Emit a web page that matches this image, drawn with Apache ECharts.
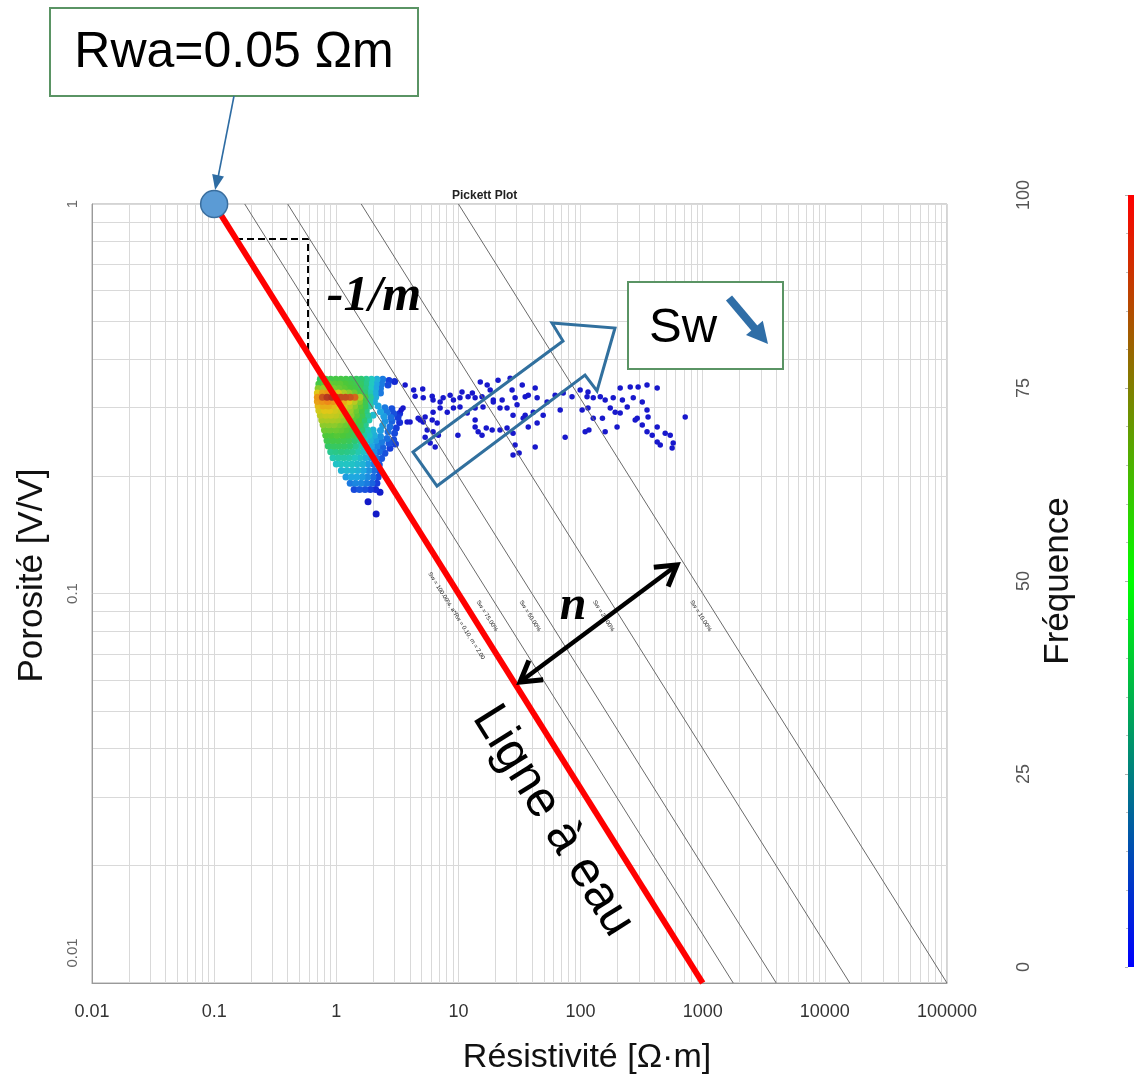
<!DOCTYPE html>
<html><head><meta charset="utf-8">
<script src="https://cdn.jsdelivr.net/npm/echarts@6/dist/echarts.min.js"></script>
<style>html,body{margin:0;padding:0;background:#fff}#c{width:1134px;height:1083px}</style>
</head><body><div id="c"></div><script>
// ---------- DATA ----------
const xTickLabels = ['0.01','0.1','1','10','100','1000','10000','100000'];
const yTickLabels = ['0.01','0.1','1'];
const freqTicks = [0, 25, 50, 75, 100];

// Archie lines (Rw = 0.1, m = 2, n = 2): endpoints at porosity 1 and 0.01
const lineNames = ['Sw = 100.00%, a*Rw = 0.10, m = 2.00', 'Sw = 75.00%', 'Sw = 50.00%', 'Sw = 25.00%', 'Sw = 10.00%'];
const lineStartR = [0.1, 0.178, 0.4, 1.6, 10];
const lineEndR = [1000, 1778, 4000, 16000, 100000];
const lineTopPhi = 1;
const lineBottomPhi = 0.01;

const rwaPoint = [0.1, 1];
const slopeCorner = [[0.151, 0.813], [0.587, 0.813], [0.587, 0.413]];

// dense cluster: [R, porosity, frequency]
const clusterPoints = [
[0.74,0.355,52],[0.82,0.355,55],[0.9,0.355,57],[0.99,0.355,58],[1.09,0.355,58],[1.2,0.355,57],[1.32,0.355,55],[1.46,0.355,53],[1.6,0.355,50],[1.76,0.355,46],[1.94,0.355,40],[2.15,0.355,32],[2.4,0.355,22],[2.7,0.352,12],[3.0,0.35,8],
[0.72,0.345,58],[0.8,0.345,62],[0.88,0.345,63],[0.97,0.345,62],[1.07,0.345,62],[1.18,0.345,60],[1.3,0.345,58],[1.43,0.345,56],[1.58,0.345,52],[1.74,0.345,47],[1.92,0.345,40],[2.12,0.345,30],[2.35,0.345,22],[2.65,0.343,14],
[0.71,0.336,68],[0.78,0.336,70],[0.86,0.336,68],[0.95,0.336,66],[1.05,0.336,64],[1.16,0.336,62],[1.28,0.336,60],[1.41,0.336,58],[1.56,0.336,54],[1.72,0.336,48],[1.9,0.336,40],[2.1,0.336,30],[2.3,0.336,22],
[0.7,0.327,80],[0.77,0.327,86],[0.85,0.327,88],[0.94,0.327,84],[1.04,0.327,78],[1.15,0.327,72],[1.27,0.327,68],[1.4,0.327,64],[1.55,0.327,58],[1.71,0.327,50],[1.88,0.327,42],[2.08,0.327,32],[2.3,0.327,22],
[0.7,0.319,88],[0.77,0.319,96],[0.84,0.319,99],[0.92,0.319,100],[1.0,0.319,98],[1.09,0.319,97],[1.19,0.319,97],[1.3,0.319,96],[1.42,0.319,94],[1.56,0.319,72],[1.72,0.319,58],[1.9,0.319,45],[2.1,0.319,32],
[0.7,0.311,86],[0.77,0.311,88],[0.85,0.311,90],[0.94,0.311,88],[1.04,0.311,86],[1.15,0.311,84],[1.27,0.311,80],[1.4,0.311,74],[1.55,0.311,66],[1.71,0.311,56],[1.88,0.311,44],[2.05,0.311,32],
[0.71,0.303,82],[0.78,0.303,84],[0.86,0.303,84],[0.95,0.303,82],[1.05,0.303,80],[1.16,0.303,78],[1.28,0.303,74],[1.41,0.303,68],[1.56,0.303,62],[1.72,0.303,54],[1.9,0.303,44],[2.2,0.303,30],[2.5,0.3,22],[2.85,0.298,15],
[0.72,0.295,78],[0.8,0.295,80],[0.88,0.295,80],[0.97,0.295,78],[1.07,0.295,76],[1.18,0.295,74],[1.3,0.295,70],[1.44,0.295,64],[1.6,0.295,58],[1.76,0.295,48],[2.3,0.293,30],[2.6,0.292,22],[2.95,0.29,15],[3.3,0.29,10],
[0.74,0.287,75],[0.82,0.287,76],[0.9,0.287,76],[0.99,0.287,75],[1.09,0.287,73],[1.2,0.287,71],[1.32,0.287,68],[1.46,0.287,62],[1.62,0.287,56],[1.8,0.287,46],[2.0,0.287,36],[2.45,0.285,28],[2.8,0.283,20],[3.2,0.283,12],
[0.76,0.279,72],[0.84,0.279,72],[0.93,0.279,72],[1.02,0.279,71],[1.12,0.279,69],[1.24,0.279,66],[1.37,0.279,62],[1.52,0.279,58],[1.68,0.279,50],[1.85,0.279,42],[2.5,0.277,26],[2.85,0.277,18],[3.3,0.275,10],
[0.78,0.271,68],[0.87,0.271,68],[0.96,0.271,68],[1.06,0.271,66],[1.17,0.271,64],[1.29,0.271,62],[1.42,0.271,58],[1.57,0.271,54],[1.73,0.271,46],[2.4,0.27,28],[2.75,0.268,20],[3.1,0.266,12],
[0.8,0.263,64],[0.89,0.263,64],[0.99,0.263,64],[1.09,0.263,63],[1.2,0.263,61],[1.33,0.263,58],[1.47,0.263,54],[1.62,0.263,50],[1.8,0.263,42],[2.0,0.263,34],[2.3,0.262,28],[2.65,0.26,20],[3.0,0.258,14],
[0.82,0.255,60],[0.91,0.255,60],[1.01,0.255,61],[1.12,0.255,60],[1.24,0.255,58],[1.37,0.255,55],[1.52,0.255,50],[1.68,0.255,44],[1.86,0.255,38],[2.05,0.255,32],[2.3,0.253,26],[2.6,0.25,20],[2.95,0.248,14],
[0.84,0.247,56],[0.93,0.247,57],[1.03,0.247,57],[1.14,0.247,56],[1.26,0.247,54],[1.4,0.247,50],[1.55,0.247,46],[1.72,0.247,40],[1.9,0.247,34],[2.1,0.247,28],[2.35,0.245,22],[2.7,0.243,16],[3.05,0.242,12],
[0.86,0.239,52],[0.95,0.239,53],[1.05,0.239,53],[1.16,0.239,52],[1.29,0.239,50],[1.43,0.239,46],[1.58,0.239,42],[1.75,0.239,36],[1.94,0.239,30],[2.15,0.239,24],[2.4,0.237,18],[2.75,0.236,12],
[0.9,0.231,46],[0.99,0.231,47],[1.1,0.231,48],[1.22,0.231,47],[1.35,0.231,45],[1.5,0.231,42],[1.66,0.231,38],[1.84,0.231,32],[2.04,0.231,26],[2.25,0.231,20],[2.5,0.229,15],
[0.94,0.223,42],[1.04,0.223,43],[1.15,0.223,43],[1.27,0.223,42],[1.41,0.223,40],[1.56,0.223,37],[1.73,0.223,33],[1.92,0.223,28],[2.12,0.223,22],[2.35,0.222,16],
[1.0,0.215,38],[1.09,0.215,39],[1.21,0.215,39],[1.34,0.215,38],[1.48,0.215,36],[1.64,0.215,33],[1.82,0.215,28],[2.02,0.215,22],[2.25,0.214,16],
[1.1,0.207,34],[1.22,0.207,35],[1.35,0.207,35],[1.5,0.207,33],[1.66,0.207,30],[1.84,0.207,26],[2.04,0.207,20],[2.28,0.206,14],
[1.2,0.199,28],[1.33,0.199,30],[1.47,0.199,30],[1.63,0.199,28],[1.8,0.199,25],[2.0,0.199,20],[2.2,0.199,14],
[1.3,0.192,22],[1.44,0.192,24],[1.6,0.192,24],[1.77,0.192,22],[1.96,0.192,18],[2.15,0.192,12],
[1.4,0.185,14],[1.55,0.185,16],[1.72,0.185,15],[1.9,0.185,12],[2.1,0.185,8],
[2.28,0.182,4],[1.82,0.172,3],[2.12,0.16,3]
];

// sparse low-frequency points: [R, porosity]
const sparsePoints = [
[3.66,0.343],[4.3,0.333],[5.1,0.335],[4.42,0.321],[5.15,0.318],[6.1,0.321],[6.2,0.314],[7.5,0.318],[7.08,0.31],[8.55,0.323],
[9.1,0.314],[10.7,0.329],[10.3,0.318],[12.0,0.32],[13.0,0.327],[13.7,0.318],[15.1,0.349],[15.6,0.32],[17.2,0.343],[18.2,0.333],
[21.1,0.353],[19.3,0.314],[22.8,0.314],[26.5,0.357],[27.5,0.333],[29.1,0.318],[33.3,0.343],[35.2,0.32],[37.3,0.323],[42.5,0.337],
[44.1,0.318],[53.2,0.31],[61.9,0.323],[72.1,0.327],[85.1,0.32],[99.2,0.333],[113,0.32],[115,0.329],[127,0.318],[145,0.32],
[159,0.314],[185,0.318],[211,0.337],[220,0.314],[255,0.339],[270,0.318],[296,0.339],[350,0.343],[424,0.337],[320,0.31],
[3.52,0.2995],[4.68,0.282],[5.34,0.284],[6.2,0.292],[7.08,0.2995],[8.1,0.292],[9.1,0.2995],[10.3,0.301],[11.8,0.2905],[13.7,0.2995],
[15.9,0.301],[19.3,0.31],[21.9,0.2995],[25.0,0.2995],[30.2,0.305],[28.0,0.287],[35.2,0.287],[41.0,0.292],[49.4,0.287],[68.1,0.296],
[103,0.296],[115,0.2995],[127,0.282],[151,0.282],[175,0.2995],[192,0.292],[211,0.2905],[241,0.301],[291,0.282],[350,0.296],
[357,0.284],[719,0.284],
[3.8,0.2755],[5.15,0.2755],[6.1,0.279],[6.7,0.274],[5.55,0.263],[6.2,0.26],[6.85,0.255],[5.34,0.252],[5.87,0.2434],[6.45,0.2377],
[9.9,0.255],[13.7,0.279],[13.7,0.2676],[14.5,0.26],[15.6,0.255],[16.9,0.266],[18.9,0.263],[21.9,0.263],[25.0,0.266],[28.0,0.258],
[29.1,0.2405],[31.4,0.2295],[28.0,0.2268],[33.9,0.282],[37.3,0.2676],[42.5,0.2377],[44.1,0.274],[74.8,0.252],[109,0.26],[117,0.263],
[159,0.26],[199,0.2676],[280,0.279],[320,0.2707],[350,0.26],[386,0.255],[424,0.2676],[424,0.2449],[449,0.2405],[493,0.258],
[542,0.255],[573,0.2434],[562,0.2363],[4.02,0.2755],[4.86,0.279],[3.4,0.296]
];

// ---------- CHART ----------
const FONT = '"Liberation Sans", Arial, sans-serif';
const SERIF = '"Liberation Serif", "Times New Roman", serif';
const chart = echarts.init(document.getElementById('c'));

function fmt(v) { return String(+(+v).toPrecision(6)); }

const vLines = [], hLines = [];
for (let e = -2; e < 5; e++) for (let k = 1; k < 10; k++) vLines.push({ xAxis: +(k * Math.pow(10, e)).toPrecision(4) });
vLines.push({ xAxis: 100000 });
for (let e = -2; e < 0; e++) for (let k = 1; k < 10; k++) hLines.push({ yAxis: +(k * Math.pow(10, e)).toPrecision(4) });
hLines.push({ yAxis: 1 });

const sortedCluster = clusterPoints.slice().sort((a, b) => a[2] - b[2]);

const series = [
  {
    type: 'line', data: [[1, 0.5]], showSymbol: false, symbol: 'none', lineStyle: { opacity: 0 }, silent: true, z: 0,
    markLine: {
      z: 0, silent: true, symbol: ['none', 'none'], label: { show: false }, animation: false,
      lineStyle: { color: '#d9d9d9', width: 1, type: 'solid' },
      emphasis: { disabled: true },
      data: vLines.concat(hLines)
    }
  },
  {
    type: 'scatter', name: 'cluster', data: sortedCluster, symbolSize: 7, z: 3,
    itemStyle: { opacity: 1 }
  },
  {
    type: 'scatter', name: 'sparse', data: sparsePoints, symbolSize: 5.5, z: 3,
    itemStyle: { color: '#1818cc', opacity: 1 }
  }
];
for (let i = lineStartR.length - 1; i >= 0; i--) {
  series.push({
    type: 'line', name: lineNames[i], z: i === 0 ? 6 : 4, symbol: 'none', silent: true,
    data: [[lineStartR[i], lineTopPhi], [lineEndR[i], lineBottomPhi]],
    lineStyle: i === 0 ? { color: '#ff0000', width: 6 } : { color: '#6a6a6a', width: 1 }
  });
}
series.push({
  type: 'line', name: 'slope', data: slopeCorner, symbol: 'none', z: 5, silent: true,
  lineStyle: { color: '#000', width: 2, type: [7, 4] }
});
series.push({
  type: 'scatter', name: 'Rwa', data: [rwaPoint], symbolSize: 27, z: 8, silent: true,
  itemStyle: { color: '#5b9bd5', borderColor: '#3a6e9e', borderWidth: 1.5, opacity: 1 }
});
series.push({
  type: 'bar', xAxisIndex: 1, yAxisIndex: 1, data: [freqTicks[freqTicks.length - 1]], barWidth: '100%', silent: true,
  itemStyle: {
    color: { type: 'linear', x: 0, y: 1, x2: 0, y2: 0, colorStops: [
      { offset: 0, color: '#0000ff' }, { offset: 0.5, color: '#00ff00' }, { offset: 1, color: '#ff0000' }] }
  }
});

chart.setOption({
  animation: false,
  backgroundColor: '#fff',
  textStyle: { fontFamily: FONT },
  title: { text: 'Pickett Plot', left: 447, top: 185, textStyle: { fontSize: 12, fontWeight: 'bold', color: '#222', fontFamily: FONT } },
  grid: [
    { left: 92, top: 204, width: 855, height: 779, show: true, borderColor: '#a8a8a8', borderWidth: 1 },
    { left: 1128, top: 195, width: 8, height: 772, show: false }
  ],
  xAxis: [
    {
      type: 'log', logBase: 10, min: 0.01, max: 100000, gridIndex: 0,
      axisLine: { show: true, lineStyle: { color: '#9a9a9a' } },
      axisTick: { show: false }, splitLine: { show: false },
      axisLabel: { fontSize: 18, color: '#333', margin: 20, fontFamily: FONT, formatter: v => { const s = fmt(v); return xTickLabels.includes(s) ? s : ''; } },
      name: 'Résistivité [Ω·m]', nameLocation: 'middle', nameGap: 58, nameMoveOverlap: false,
      nameTextStyle: { fontSize: 34, color: '#111', fontFamily: FONT, padding: [0, 0, 0, 135] }
    },
    { type: 'category', gridIndex: 1, data: ['c'], show: false }
  ],
  yAxis: [
    {
      type: 'log', logBase: 10, min: 0.01, max: 1, gridIndex: 0,
      axisLine: { show: true, lineStyle: { color: '#9a9a9a' } },
      axisTick: { show: false }, splitLine: { show: false },
      axisLabel: {
        rotate: 90, fontSize: 15, color: '#666', margin: 12, fontFamily: FONT,
        formatter: v => { const s = fmt(v); if (!yTickLabels.includes(s)) return ''; return s === '0.01' ? '{lo|' + s + '}' : s; },
        rich: { lo: { fontSize: 15, color: '#666', padding: [0, 0, 0, 60], fontFamily: FONT } }
      },
      name: 'Porosité [V/V]', nameLocation: 'middle', nameGap: 42, nameRotate: 90, nameMoveOverlap: false,
      nameTextStyle: { fontSize: 35, color: '#111', fontFamily: FONT, padding: [0, 0, 0, 36] }
    },
    {
      type: 'value', gridIndex: 1, min: 0, max: 100, interval: 25,
      axisLine: { show: false }, splitLine: { show: false },
      axisTick: { show: true, length: 3, lineStyle: { color: '#b0b0b0' } },
      minorTick: { show: true, splitNumber: 5, length: 2, lineStyle: { color: '#c0c0c0' } },
      axisLabel: { rotate: 90, margin: 95, fontSize: 18, color: '#555', fontFamily: FONT },
      name: 'Fréquence', nameLocation: 'middle', nameGap: 52, nameRotate: 90, nameMoveOverlap: false,
      nameTextStyle: { fontSize: 35, color: '#111', fontFamily: FONT }
    }
  ],
  visualMap: {
    show: false, type: 'continuous', min: 0, max: 100, dimension: 2, seriesIndex: 1,
    inRange: { color: ['#1010c0', '#1530d8', '#1a6fe0', '#1fa8e0', '#22c8c0', '#2ec870', '#4cc83a', '#9ccc28', '#e0c818', '#ee8a18', '#b03020'] }
  },
  series: series
});

// ---------- ANNOTATIONS ----------
function px(p) { return chart.convertToPixel({ gridIndex: 0 }, p); }
function headPts(tip, from, len, half) {
  const dx = tip[0] - from[0], dy = tip[1] - from[1], L = Math.hypot(dx, dy);
  const ux = dx / L, uy = dy / L, bx = tip[0] - ux * len, by = tip[1] - uy * len;
  return [[bx - uy * half, by + ux * half], [tip[0], tip[1]], [bx + uy * half, by - ux * half]];
}
const BLUE = '#2e6ca3', GREEN = '#5a9464';
const g = [];

// Rwa box and arrow
g.push({ type: 'rect', shape: { x: 50, y: 8, width: 368, height: 88 }, style: { fill: '#fff', stroke: GREEN, lineWidth: 2 }, z: 100 });
g.push({ type: 'text', x: 234, y: 53, style: { text: 'Rwa=0.05 Ωm', font: '50px ' + FONT, fill: '#000', align: 'center', verticalAlign: 'middle', textAlign: 'center', textVerticalAlign: 'middle' }, z: 101 });
const cpx = px(rwaPoint);
const rwaTip = [cpx[0] + 1, cpx[1] - 14];
g.push({ type: 'line', shape: { x1: 234, y1: 96, x2: rwaTip[0] + 2, y2: rwaTip[1] - 8 }, style: { stroke: BLUE, lineWidth: 1.6 }, z: 100 });
g.push({ type: 'polygon', shape: { points: headPts(rwaTip, [234, 96], 15, 6) }, style: { fill: BLUE }, z: 100 });

// -1/m
g.push({ type: 'text', x: 374, y: 297, style: { text: '-1/m', font: 'italic bold 50px ' + SERIF, fill: '#000', align: 'center', verticalAlign: 'middle', textAlign: 'center', textVerticalAlign: 'middle' }, z: 100 });

// hollow block arrow
g.push({ type: 'polygon', shape: { points: [[413, 452], [563, 341], [552, 323], [615, 328], [597, 391], [585, 375], [437, 486]] }, style: { fill: 'none', stroke: '#31709e', lineWidth: 3, lineJoin: 'miter' }, z: 100 });

// Sw box
g.push({ type: 'rect', shape: { x: 628, y: 282, width: 155, height: 87 }, style: { fill: '#fff', stroke: GREEN, lineWidth: 2 }, z: 100 });
g.push({ type: 'text', x: 649, y: 328, style: { text: 'Sw', font: '49px ' + FONT, fill: '#000', align: 'left', verticalAlign: 'middle', textAlign: 'left', textVerticalAlign: 'middle' }, z: 101 });
g.push({ type: 'line', shape: { x1: 729, y1: 298, x2: 756, y2: 330 }, style: { stroke: '#2f6ea7', lineWidth: 8 }, z: 101 });
g.push({ type: 'polygon', shape: { points: headPts([768, 344], [729, 298], 21, 11) }, style: { fill: '#2f6ea7' }, z: 101 });

// n double arrow
const nA = [520, 682], nB = [677, 565];
g.push({ type: 'line', shape: { x1: nA[0], y1: nA[1], x2: nB[0], y2: nB[1] }, style: { stroke: '#000', lineWidth: 4.5 }, z: 100 });
g.push({ type: 'polyline', shape: { points: headPts(nA, nB, 20, 12) }, style: { stroke: '#000', lineWidth: 5, fill: null, lineJoin: 'miter' }, z: 100 });
g.push({ type: 'polyline', shape: { points: headPts(nB, nA, 20, 12) }, style: { stroke: '#000', lineWidth: 5, fill: null, lineJoin: 'miter' }, z: 100 });
g.push({ type: 'text', x: 573, y: 607, style: { text: 'n', font: 'italic bold 48px ' + SERIF, fill: '#000', align: 'center', verticalAlign: 'middle', textAlign: 'center', textVerticalAlign: 'middle' }, z: 100 });

// Water line label and tiny line labels aligned with the lines
const pTop = px([lineStartR[0], lineTopPhi]), pBot = px([lineEndR[0], lineBottomPhi]);
const ang = Math.atan2(pBot[1] - pTop[1], pBot[0] - pTop[0]);
g.push({ type: 'text', x: 553, y: 821, rotation: -ang, style: { text: 'Ligne à eau', font: '50px ' + FONT, fill: '#000', align: 'center', verticalAlign: 'middle', textAlign: 'center', textVerticalAlign: 'middle' }, z: 100 });

const labelY = px([1, 0.0876])[1];
for (let i = 0; i < lineStartR.length; i++) {
  const a = px([lineStartR[i], lineTopPhi]), b = px([lineEndR[i], lineBottomPhi]);
  const t = (labelY - a[1]) / (b[1] - a[1]);
  const lx = a[0] + t * (b[0] - a[0]) - 16;
  g.push({ type: 'text', x: lx, y: labelY, rotation: -ang, style: { text: lineNames[i], font: '6px ' + FONT, fill: '#222', align: 'center', verticalAlign: 'middle', textAlign: 'center', textVerticalAlign: 'middle' }, z: 90 });
}

chart.setOption({ graphic: g });
</script></body></html>
